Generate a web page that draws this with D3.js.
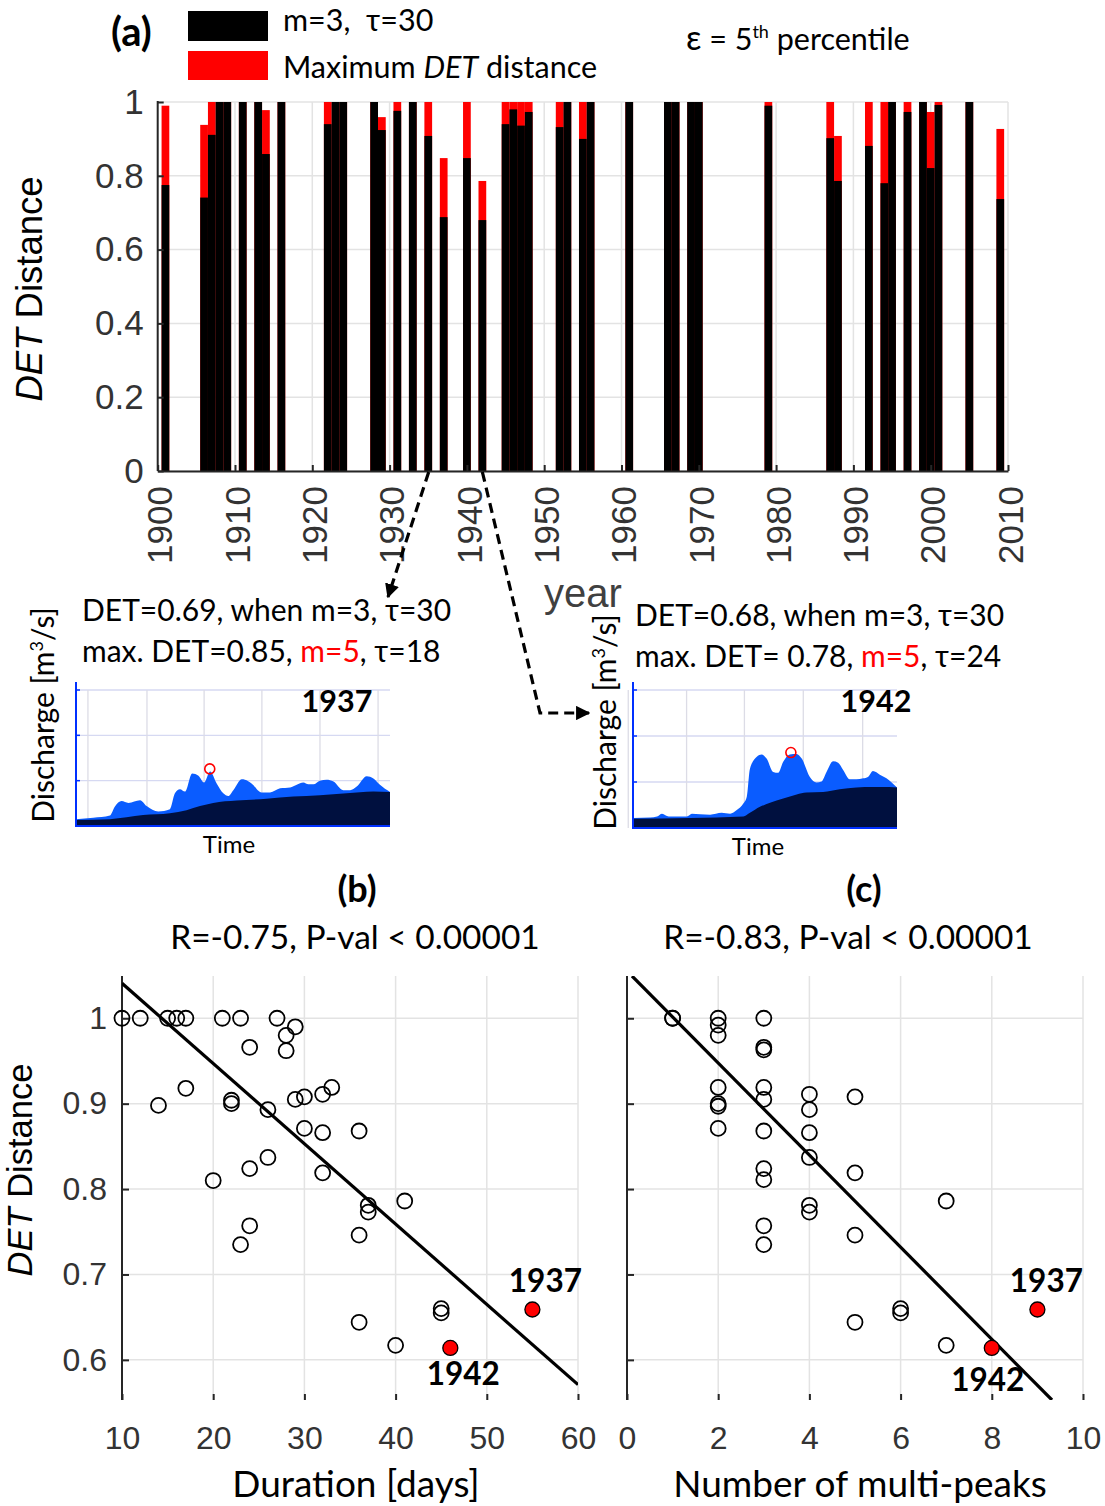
<!DOCTYPE html>
<html>
<head>
<meta charset="utf-8">
<script src="https://cdn.jsdelivr.net/npm/d3@7"></script>
<style>
  body { margin: 0; background: #fff; }
  svg text { font-family: "Liberation Sans", Arial, sans-serif; }
  .cal { font-family: Lato, "Open Sans", sans-serif; }
</style>
</head>
<body>
<svg id="fig" width="1105" height="1506"></svg>
<script>
// ---------- Panel (a): DET distance per flood year ----------
const years = [1901,1906,1907,1908,1909,1911,1913,1914,1916,1922,1923,1924,1928,1929,1931,1933,1935,1937,1940,1942,
  1945,1946,1947,1948,1952,1953,1955,1956,1961,1966,1967,1969,1970,1979,1987,1988,1992,1994,1995,1997,1999,2000,2001,2005,2009];
const detM3 = [0.775,0.741,0.911,1,1,1,1,0.859,1,0.940,1,1,1,0.924,0.976,1,0.908,0.688,0.848,0.680,
  0.940,0.980,0.936,0.973,0.932,1,0.900,1,1,1,1,1,1,0.990,0.902,0.786,0.881,0.780,1,0.973,1,0.821,0.992,1,0.737];
const detMax = [0.99,0.938,1,1,1,1,1,0.978,1,1,1,1,1,0.959,1,1,1,0.848,1,0.786,
  1,1,1,1,1,1,1,1,1,1,1,1,1,1,1,0.908,1,1,1,1,1,0.973,1,1,0.927];
const yearTicks = [1900,1910,1920,1930,1940,1950,1960,1970,1980,1990,2000,2010];
const detTicks = [0,0.2,0.4,0.6,0.8,1];

// ---------- Insets: hydrographs of 1937 and 1942 ----------
const tFlow1937 = [0,5.5,10.8,12.4,14.5,16.7,20.4,22.5,26.2,29.9,31.5,33.1,34.7,37.0,39.0,40.8,42.7,44.8,46.9,48.5,
  50.1,52.8,53.8,55.9,59.1,61.8,65.0,68.2,70.3,72.4,74.0,75.6,77.7,79.8,82.0,85.1,87.3,89.4,92.6,94.7,96.8,100];
const qFlow1937 = [0.15,0.18,0.23,0.43,0.55,0.51,0.57,0.44,0.32,0.37,0.72,0.81,0.76,1.16,1.11,0.96,1.20,0.94,0.72,0.66,
  0.79,1.03,1.02,0.94,0.74,0.74,0.83,0.85,0.91,0.96,0.92,0.92,1.00,1.02,0.98,0.79,0.79,0.87,1.10,1.05,0.91,0.75];
const tBase1937 = [0,10.8,21.4,29.9,35.2,39.5,43.7,51.2,60.7,69.2,77.7,86.2,94.7,100];
const qBase1937 = [0.13,0.15,0.24,0.28,0.35,0.44,0.51,0.56,0.60,0.65,0.68,0.72,0.76,0.75];
const peak1937 = [42.6, 1.26];
const tGrid1937 = [3.8,22.6,40.8,59.2,77.7,96.2];

const tFlow1942 = [0,6.5,9.1,11.0,13.5,20.4,22.3,25.4,29.2,33.6,36.8,39.3,41.8,43.1,44.3,46.9,48.7,50.6,53.1,55.0,
  56.9,59.4,62.0,63.9,67.0,69.5,71.4,73.3,75.8,77.7,79.6,82.1,84.6,87.2,89.0,90.9,93.5,96.0,100];
const qFlow1942 = [0.22,0.23,0.25,0.31,0.25,0.25,0.31,0.30,0.29,0.33,0.31,0.39,0.53,0.68,1.29,1.55,1.60,1.51,1.22,1.20,
  1.44,1.60,1.61,1.51,1.11,0.99,1.01,1.22,1.45,1.42,1.26,1.06,1.06,1.08,1.11,1.24,1.16,1.08,0.88];
const tBase1942 = [0,21.7,41.8,44.3,48.1,51.9,56.9,62.0,65.7,72.0,78.3,84.6,90.9,97.2,100];
const qBase1942 = [0.20,0.22,0.25,0.33,0.46,0.55,0.64,0.73,0.77,0.78,0.84,0.88,0.89,0.89,0.88];
const peak1942 = [59.8, 1.64];
const tGrid1942 = [-1.8,20.3,42.2,64.5,87.0];
const flowTicks = [1,2,3];

// ---------- Panel (b): DET vs duration ----------
const durDays = [10,12,15,16,17,21,23,27,29,28,28,24,17,14,22,22,26,29,30,32,33,30,32,26,24,32,20,24,23,36,37,37,36,41,36,40,45,45];
const detDur  = [1,1,1,1,1,1,1,1,0.990,0.980,0.962,0.966,0.918,0.898,0.904,0.900,0.893,0.905,0.908,0.911,0.919,0.871,0.866,0.837,
  0.824,0.819,0.810,0.757,0.735,0.868,0.781,0.773,0.746,0.786,0.644,0.617,0.660,0.655];
const hiDur = [46, 55];
const hiDetDur = [0.614, 0.659];
const fitDur = [[10, 1.041], [60, 0.571]];
const durTicks = [10,20,30,40,50,60];

// ---------- Panel (c): DET vs number of multi-peaks ----------
const nPeaks = [1,1,2,2,2,2,2,2,2,3,3,3,3,3,3,3,3,3,3,4,4,4,4,4,4,5,5,5,5,6,6,7,7];
const detPeaks = [1,1,1,0.992,0.980,0.919,0.900,0.897,0.871,1,0.966,0.963,0.919,0.905,0.868,0.824,0.811,0.757,0.735,
  0.911,0.893,0.866,0.837,0.781,0.773,0.908,0.819,0.746,0.644,0.660,0.655,0.786,0.617];
const hiPeaks = [8, 9];
const hiDetPeaks = [0.614, 0.659];
const fitPeaks = [[0.11, 1.0495], [9.32, 0.553]];
const peakTicks = [0,2,4,6,8,10];
const scatterDetTicks = [0.6,0.7,0.8,0.9,1];
const hiYears = ["1942", "1937"];

const svg = d3.select("#fig");
const AX = "#262626", GRID = "#e3e3e3", TXT = "#333";
const fmt = d3.format("~g");

// ===== Panel (a) =====
const xA = d3.scaleLinear().domain([1900, 2010]).range([157.7, 1008]);
const yA = d3.scaleLinear().domain([0, 1]).range([471, 102]);
const bw = xA(1901) - xA(1900);
const gA = svg.append("g");

gA.append("g").selectAll("line").data(detTicks).join("line")
  .attr("x1", xA(1900)).attr("x2", xA(2010)).attr("y1", d => yA(d)).attr("y2", d => yA(d))
  .attr("stroke", GRID).attr("stroke-width", 1.5);
gA.append("g").selectAll("line").data(yearTicks.slice(1)).join("line")
  .attr("x1", d => xA(d)).attr("x2", d => xA(d)).attr("y1", yA(0)).attr("y2", yA(1))
  .attr("stroke", GRID).attr("stroke-width", 1.5);

const barData = years.map((y, i) => ({ year: y, base: detM3[i], max: detMax[i] }));
gA.append("g").selectAll("rect").data(barData).join("rect")
  .attr("x", d => xA(d.year) - bw / 2).attr("width", bw)
  .attr("y", d => yA(d.max)).attr("height", d => yA(0) - yA(d.max)).attr("fill", "#ff0000");
gA.append("g").selectAll("rect").data(barData).join("rect")
  .attr("x", d => xA(d.year) - bw / 2).attr("width", bw)
  .attr("y", d => yA(d.base)).attr("height", d => yA(0) - yA(d.base)).attr("fill", "#000");

const axLeftA = gA.append("g").attr("transform", `translate(${xA(1900)},0)`)
  .call(d3.axisLeft(yA).tickValues(detTicks).tickFormat(fmt).tickSizeInner(-6).tickSizeOuter(0).tickPadding(14));
const axBotA = gA.append("g").attr("transform", `translate(0,${yA(0)})`)
  .call(d3.axisBottom(xA).tickValues(yearTicks).tickFormat(d3.format("d")).tickSizeInner(-6).tickSizeOuter(0));
[axLeftA, axBotA].forEach(a => {
  a.select(".domain").attr("stroke", AX).attr("stroke-width", 2);
  a.selectAll(".tick line").attr("stroke", AX).attr("stroke-width", 2);
  a.selectAll("text").attr("fill", TXT).attr("font-size", 35).attr("font-family", "Liberation Sans, Arial, sans-serif");
});
axLeftA.select(".domain").attr("d", `M0,${yA(1) - 1}V${yA(0)}`);
axBotA.selectAll("text")
  .attr("transform", "rotate(-90)").attr("text-anchor", "end")
  .attr("x", -15).attr("y", 2).attr("dy", "0.35em").attr("dx", null);

svg.append("text").attr("transform", "translate(42,289) rotate(-90)").attr("text-anchor", "middle")
  .attr("font-size", 36.5).attr("fill", "#000")
  .call(t => { t.append("tspan").attr("font-style", "italic").text("DET"); t.append("tspan").text(" Distance"); });
svg.append("text").attr("x", 583).attr("y", 607).attr("text-anchor", "middle")
  .attr("font-size", 40).attr("fill", "#404040").text("year");

// legend
svg.append("text").attr("class", "cal").attr("x", 111).attr("y", 46).attr("font-size", 40)
  .attr("font-weight", "bold").text("(a)");
svg.append("rect").attr("x", 188).attr("y", 11).attr("width", 80).attr("height", 30).attr("fill", "#000");
svg.append("rect").attr("x", 188).attr("y", 51).attr("width", 80).attr("height", 29).attr("fill", "#ff0000");
svg.append("text").attr("class", "cal").attr("x", 283).attr("y", 31).attr("font-size", 30.5)
  .attr("xml:space", "preserve").text("m=3,  τ=30");
svg.append("text").attr("class", "cal").attr("x", 283).attr("y", 78).attr("font-size", 30.5)
  .call(t => {
    t.append("tspan").text("Maximum ");
    t.append("tspan").attr("font-style", "italic").text("DET");
    t.append("tspan").text(" distance");
  });
svg.append("text").attr("class", "cal").attr("x", 686).attr("y", 50).attr("font-size", 30.5)
  .call(t => {
    t.append("tspan").attr("font-size", 34).text("ε");
    t.append("tspan").text(" = 5");
    t.append("tspan").attr("font-size", 18).attr("dy", -12).text("th");
    t.append("tspan").attr("dy", 12).text(" percentile");
  });

// dashed pointers from the bars to the insets
const defs = svg.append("defs");
defs.append("marker").attr("id", "arr").attr("viewBox", "0 0 10 10").attr("refX", 9).attr("refY", 5)
  .attr("markerWidth", 4.5).attr("markerHeight", 4.5).attr("markerUnits", "strokeWidth").attr("orient", "auto")
  .append("path").attr("d", "M0,0L10,5L0,10Z").attr("fill", "#000");
const pointerLine = d3.line();
svg.append("path").attr("d", pointerLine([[xA(1937) - 15, 472], [388, 597]]))
  .attr("fill", "none").attr("stroke", "#000").attr("stroke-width", 3.2).attr("stroke-dasharray", "10,6")
  .attr("marker-end", "url(#arr)");
svg.append("path").attr("d", pointerLine([[xA(1942), 472], [540, 713], [589, 713]]))
  .attr("fill", "none").attr("stroke", "#000").attr("stroke-width", 3.2).attr("stroke-dasharray", "10,6")
  .attr("marker-end", "url(#arr)");

// ===== Insets =====
function inset(cfg) {
  const x = d3.scaleLinear().domain([0, 100]).range(cfg.xr);
  const y = d3.scaleLinear().domain([0, 3]).range(cfg.yr);
  const g = svg.append("g");
  g.append("g").selectAll("line").data(flowTicks).join("line")
    .attr("x1", cfg.xr[0]).attr("x2", cfg.xr[1]).attr("y1", d => y(d)).attr("y2", d => y(d))
    .attr("stroke", "#d6d9f2").attr("stroke-width", 1.3);
  g.append("g").selectAll("line").data(cfg.grid).join("line")
    .attr("x1", d => x(d)).attr("x2", d => x(d)).attr("y1", y(0)).attr("y2", y(3))
    .attr("stroke", "#dcdce6").attr("stroke-width", 1.3);
  const flow = cfg.tf.map((t, i) => [t, cfg.qf[i]]);
  const base = cfg.tb.map((t, i) => [t, cfg.qb[i]]);
  const area = d3.area().x(d => x(d[0])).y0(y(0)).y1(d => y(d[1])).curve(d3.curveMonotoneX);
  g.append("path").attr("d", area(flow)).attr("fill", "#0a5cff");
  g.append("path").attr("d", area(base)).attr("fill", "#00103f");
  g.append("circle").attr("cx", x(cfg.peak[0])).attr("cy", y(cfg.peak[1])).attr("r", 5)
    .attr("fill", "none").attr("stroke", "#ff0000").attr("stroke-width", 1.6);
  g.append("g").selectAll("line").data(flowTicks).join("line")
    .attr("x1", cfg.xr[0]).attr("x2", cfg.xr[0] + 4).attr("y1", d => y(d)).attr("y2", d => y(d))
    .attr("stroke", "#0030ff").attr("stroke-width", 1.5);
  g.append("path").attr("d", `M${cfg.xr[0]},${cfg.yr[1] - 8}V${cfg.yr[0]}H${cfg.xr[1]}`)
    .attr("fill", "none").attr("stroke", "#0030ff").attr("stroke-width", 2);
  g.append("text").attr("class", "cal").attr("x", cfg.lx).attr("y", cfg.yr[1] + 22).attr("text-anchor", "middle")
    .attr("font-size", 30.5).attr("font-weight", "bold").text(cfg.label);
  g.append("text").attr("class", "cal").attr("x", (cfg.xr[0] + cfg.xr[1]) / 2 + cfg.tdx).attr("y", cfg.yr[0] + 27)
    .attr("text-anchor", "middle").attr("font-size", 24).text("Time");
  g.append("text").attr("class", "cal").attr("transform", `translate(${cfg.dx},${cfg.dy}) rotate(-90)`)
    .attr("text-anchor", "middle").attr("font-size", 30)
    .call(t => {
      t.append("tspan").text("Discharge [m");
      t.append("tspan").attr("font-size", 18).attr("dy", -11).text("3");
      t.append("tspan").attr("dy", 11).text("/s]");
    });
  g.append("text").attr("class", "cal").attr("x", cfg.ax).attr("y", cfg.ay).attr("font-size", 30).text(cfg.l1);
  g.append("text").attr("class", "cal").attr("x", cfg.ax).attr("y", cfg.ay + 41).attr("font-size", 30)
    .call(t => {
      t.append("tspan").text(cfg.l2a);
      t.append("tspan").attr("fill", "#ff0000").text("m=5");
      t.append("tspan").text(cfg.l2b);
    });
}
inset({ xr: [76, 390], yr: [826, 690], tf: tFlow1937, qf: qFlow1937, tb: tBase1937, qb: qBase1937,
  peak: peak1937, grid: tGrid1937, label: "1937", lx: 337, tdx: -4, dx: 54, dy: 715,
  ax: 82, ay: 621, l1: "DET=0.69, when m=3, τ=30", l2a: "max. DET=0.85, ", l2b: ", τ=18" });
inset({ xr: [633, 897], yr: [828, 690], tf: tFlow1942, qf: qFlow1942, tb: tBase1942, qb: qBase1942,
  peak: peak1942, grid: tGrid1942, label: "1942", lx: 876, tdx: -7, dx: 616, dy: 722,
  ax: 635, ay: 626, l1: "DET=0.68, when m=3, τ=30", l2a: "max. DET= 0.78, ", l2b: ", τ=24" });

// ===== Scatter panels =====
function scatter(cfg) {
  const x = d3.scaleLinear().domain(cfg.xd).range(cfg.xr);
  const y = d3.scaleLinear().domain([0.553, 1.0495]).range([1400, 976]);
  const g = svg.append("g");
  const clipId = "clip" + cfg.id;
  defs.append("clipPath").attr("id", clipId).append("rect")
    .attr("x", cfg.xr[0]).attr("y", 976).attr("width", cfg.xr[1] - cfg.xr[0]).attr("height", 424);
  g.append("g").selectAll("line").data(scatterDetTicks).join("line")
    .attr("x1", cfg.xr[0]).attr("x2", cfg.xr[1]).attr("y1", d => y(d)).attr("y2", d => y(d))
    .attr("stroke", GRID).attr("stroke-width", 1.5);
  g.append("g").selectAll("line").data(cfg.xt.slice(1)).join("line")
    .attr("x1", d => x(d)).attr("x2", d => x(d)).attr("y1", 976).attr("y2", 1400)
    .attr("stroke", GRID).attr("stroke-width", 1.5);

  const ax = g.append("g").attr("transform", `translate(${cfg.xr[0]},0)`)
    .call(d3.axisLeft(y).tickValues(scatterDetTicks).tickFormat(cfg.yLabels ? fmt : "")
      .tickSizeInner(-7).tickSizeOuter(0).tickPadding(15));
  const bx = g.append("g").attr("transform", "translate(0,1400)")
    .call(d3.axisBottom(x).tickValues(cfg.xt).tickFormat(fmt).tickSizeInner(-6).tickSizeOuter(0).tickPadding(26));
  [ax, bx].forEach(a => {
    a.select(".domain").attr("stroke", AX).attr("stroke-width", 2);
    a.selectAll(".tick line").attr("stroke", AX).attr("stroke-width", 2);
    a.selectAll("text").attr("fill", TXT).attr("font-size", 32).attr("font-family", "Lato, sans-serif");
  });
  ax.select(".domain").attr("d", `M0,976V1400`);
  bx.select(".domain").remove();

  g.append("path").attr("clip-path", `url(#${clipId})`)
    .attr("d", d3.line().x(d => x(d[0])).y(d => y(d[1]))(cfg.fit))
    .attr("stroke", "#000").attr("stroke-width", 3.2).attr("fill", "none");
  const pts = cfg.xs.map((v, i) => [v, cfg.ys[i]]);
  g.append("g").selectAll("circle").data(pts).join("circle")
    .attr("cx", d => x(d[0])).attr("cy", d => y(d[1])).attr("r", 7.5)
    .attr("fill", "none").attr("stroke", "#000").attr("stroke-width", 1.8);
  const hi = cfg.hx.map((v, i) => ({ x: v, y: cfg.hy[i], label: hiYears[i] }));
  g.append("g").selectAll("circle").data(hi).join("circle")
    .attr("cx", d => x(d.x)).attr("cy", d => y(d.y)).attr("r", 7.5)
    .attr("fill", "#ff0000").attr("stroke", "#000").attr("stroke-width", 1.3);
  g.append("g").selectAll("text").data(hi).join("text").attr("class", "cal")
    .attr("x", (d, i) => x(d.x) + cfg.lab[i][0]).attr("y", (d, i) => y(d.y) + cfg.lab[i][1])
    .attr("text-anchor", "middle").attr("font-size", 31.5).attr("font-weight", "bold").text(d => d.label);

  g.append("text").attr("class", "cal").attr("x", cfg.tx).attr("y", 902).attr("text-anchor", "middle")
    .attr("font-size", 36).attr("font-weight", "bold").text(cfg.tag);
  g.append("text").attr("class", "cal").attr("x", cfg.rx).attr("y", 949).attr("text-anchor", "middle")
    .attr("font-size", 33.5).text(cfg.stat);
  g.append("text").attr("class", "cal").attr("x", cfg.xlx).attr("y", 1497).attr("text-anchor", "middle")
    .attr("font-size", 37).text(cfg.xlabel);
}
scatter({ id: "b", xd: [10, 60], xr: [122, 578], xt: durTicks, xs: durDays, ys: detDur, hx: hiDur, hy: hiDetDur,
  fit: fitDur, yLabels: true, lab: [[13, 37], [13, -17]], tag: "(b)", tx: 357, rx: 355,
  stat: "R=-0.75, P-val < 0.00001", xlx: 356, xlabel: "Duration [days]" });
scatter({ id: "c", xd: [0, 10], xr: [627, 1083], xt: peakTicks, xs: nPeaks, ys: detPeaks, hx: hiPeaks, hy: hiDetPeaks,
  fit: fitPeaks, yLabels: false, lab: [[-4, 43], [9, -17]], tag: "(c)", tx: 864, rx: 848,
  stat: "R=-0.83, P-val < 0.00001", xlx: 860, xlabel: "Number of multi-peaks" });

svg.append("text").attr("transform", "translate(32,1170) rotate(-90)").attr("text-anchor", "middle")
  .attr("font-size", 34.5).attr("fill", "#000")
  .call(t => { t.append("tspan").attr("font-style", "italic").text("DET"); t.append("tspan").text(" Distance"); });
</script>
</body>
</html>
